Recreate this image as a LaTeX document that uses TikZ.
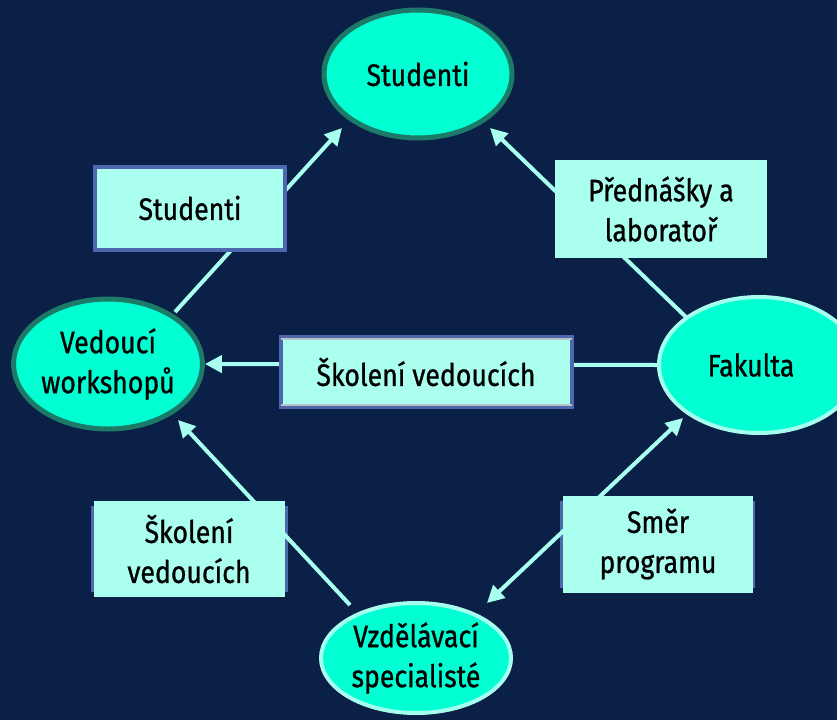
\documentclass[tikz,border=0pt]{standalone}
\usepackage{fontspec}
\setmainfont{Fira Sans}[FakeStretch=0.86, FakeBold=0.9]
\usetikzlibrary{shapes.geometric,arrows.meta,calc}
\pgfdeclarelayer{canvas}
\pgfdeclarelayer{back}
\pgfsetlayers{canvas,back,main}
\definecolor{bgnavy}{HTML}{0A2047}
\definecolor{mint}{HTML}{02FFD3}
\definecolor{darkrim}{HTML}{1C7A68}
\definecolor{lightrim}{HTML}{A6FFEE}
\definecolor{boxfill}{HTML}{AAFFEE}
\definecolor{boxrim}{HTML}{4E68AE}
\definecolor{innerrule}{HTML}{B8C4CC}
\definecolor{link}{HTML}{A8FFF0}
\tikzset{
  label font/.style={font=\fontsize{31}{40}\selectfont, text=black, align=center},
  role/.style={ellipse, fill=mint, inner sep=0pt, label font},
  role dark/.style={role, draw=darkrim, line width=5pt},
  role light/.style={role, draw=lightrim, line width=4pt},
  flowbox/.style={rectangle, fill=boxfill, inner sep=0pt, label font},
  flowbox framed/.style={flowbox, draw=boxrim, line width=4pt},
  flow/.style={draw=link, line width=4pt, -{Triangle[length=17pt,width=17pt]}},
  flow both/.style={draw=link, line width=4pt, {Triangle[length=17pt,width=17pt]}-{Triangle[length=17pt,width=17pt]}}
}
\begin{document}
\begin{tikzpicture}[x=1pt,y=-1pt]
\begin{pgfonlayer}{canvas}
  \fill[bgnavy] (0,0) rectangle (837,720);
\end{pgfonlayer}
\useasboundingbox (0,0) rectangle (837,720);
\clip (0,0) rectangle (837,720);

% roles
\node[role dark, minimum width=188pt, minimum height=128pt] (stud) at (418,74) {Studenti};
\node[role dark, minimum width=188pt, minimum height=130pt] (ved) at (108,364) {Vedoucí\\workshopů};
\node[role light, minimum width=200pt, minimum height=136pt] (fak) at (759,365) {\hspace*{-16pt}Fakulta};
\node[role light, minimum width=190pt, minimum height=110pt] (vzd) at (416,658) {Vzdělávací\\specialisté};

% labelled boxes
\node[flowbox framed, minimum width=190pt, minimum height=83pt] (bstud) at (190,208) {Studenti};
\node[flowbox, minimum width=212pt, minimum height=98pt] (bpred) at (661,209) {Přednášky a\\laboratoř};
\node[flowbox framed, minimum width=291pt, minimum height=70pt] (bskol) at (426,372) {Školení vedoucích};
\draw[innerrule, line width=1.5pt] ([xshift=2pt,yshift=-4pt]bskol.north west) -- ([xshift=-2pt,yshift=-4pt]bskol.north east);
\draw[innerrule, line width=1.5pt] ([xshift=2pt,yshift=4pt]bskol.south west) -- ([xshift=-2pt,yshift=4pt]bskol.south east);
\node[flowbox, minimum width=191pt, minimum height=96pt] (bskol2) at (189,549) {Školení\\vedoucích};
\node[flowbox, minimum width=190pt, minimum height=97pt] (bsmer) at (658,544) {Směr\\programu};

\begin{pgfonlayer}{back}
  % thin frames peeking out at the sides of the lower boxes
  \fill[boxrim] ([xshift=-2pt,yshift=-5pt]bskol2.north west) rectangle ([xshift=3pt,yshift=5pt]bskol2.south east);
  \fill[boxrim] ([xshift=-3pt,yshift=-6pt]bsmer.north west) rectangle ([xshift=2pt,yshift=5pt]bsmer.south east);
  % connectors, each leaving and entering its ellipse at a fixed offset from the centre
  \draw[flow] ($(ved.center)+(67,-52)$) -- ($(stud.center)+(-76,54)$);
  \draw[flow] ($(fak.center)+(-72,-47)$) -- ($(stud.center)+(72,54)$);
  \draw[flow] (fak.west) -- (ved.east);
  \draw[flow] ($(vzd.center)+(-66,-53)$) -- ($(ved.center)+(70,56)$);
  \draw[flow both] ($(vzd.center)+(71,-55)$) -- ($(fak.center)+(-76,53)$);
\end{pgfonlayer}
\end{tikzpicture}
\end{document}
